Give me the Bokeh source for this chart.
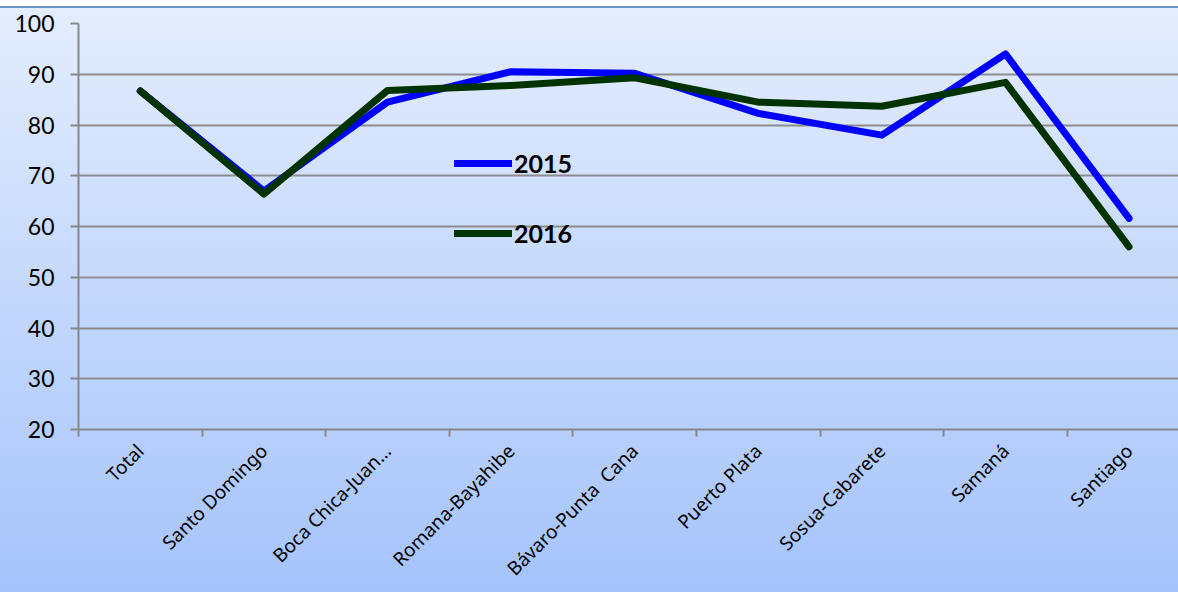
from bokeh.plotting import figure
from bokeh.models import Range1d, FixedTicker, Legend, LegendItem
from bokeh.embed import file_html
from bokeh.resources import INLINE

categories = ["Total", "Santo Domingo", "Boca Chica-Juan…", "Romana-Bayahibe",
              "Bávaro-Punta\u00a0 Cana", "Puerto Plata", "Sosua-Cabarete", "Samaná", "Santiago"]
values_2015 = [86.7, 67.0, 84.5, 90.5, 90.2, 82.3, 78.0, 94.0, 61.6]
values_2016 = [86.7, 66.4, 86.8, 87.8, 89.3, 84.5, 83.7, 88.4, 56.0]
y_ticks = [20, 30, 40, 50, 60, 70, 80, 90, 100]

xs = [i + 0.5 for i in range(len(categories))]

p = figure(width=1178, height=586, output_backend="svg", toolbar_location=None,
           x_range=Range1d(0, 8.9), y_range=Range1d(20, 100),
           min_border_left=78, min_border_right=0, min_border_top=15, min_border_bottom=165)
p.styles = {"background-image": "linear-gradient(to bottom, #e4edfd 0%, #c4d8fc 50%, #a5c3fb 100%)",
            "border-top": "2px solid #6a93c6", "margin-top": "6px"}
p.border_fill_color = None
p.background_fill_color = None
p.outline_line_color = None

r1 = p.line(xs, values_2015, line_color="#0000ff", line_width=7, line_join="round", line_cap="round")
r2 = p.line(xs, values_2016, line_color="#003300", line_width=7, line_join="round", line_cap="round")

# x axis: labels at centers, tick marks at boundaries
p.xaxis.ticker = FixedTicker(ticks=xs, minor_ticks=list(range(len(categories))))
p.xaxis.major_label_overrides = {x: c for x, c in zip(xs, categories)}
p.xaxis.major_label_orientation = 0.785398
p.xaxis.major_tick_line_color = None
p.xaxis.minor_tick_line_color = "#888888"
p.xaxis.minor_tick_line_width = 2
p.xaxis.minor_tick_out = 7
p.xaxis.minor_tick_in = 0
p.xaxis.axis_line_color = "#888888"
p.xaxis.axis_line_width = 2
p.xaxis.major_label_text_font = "Noto Sans"
p.xaxis.major_label_text_font_size = "19px"
p.xaxis.major_label_text_color = "#000000"
p.xaxis.major_label_standoff = 11
p.xgrid.grid_line_color = None

p.yaxis.ticker = FixedTicker(ticks=y_ticks)
p.yaxis.major_tick_line_color = "#888888"
p.yaxis.major_tick_line_width = 2
p.yaxis.major_tick_out = 8
p.yaxis.major_tick_in = 0
p.yaxis.minor_tick_line_color = None
p.yaxis.axis_line_color = "#888888"
p.yaxis.axis_line_width = 2
p.yaxis.major_label_text_font = "Lato"
p.yaxis.major_label_text_font_size = "23px"
p.yaxis.major_label_text_color = "#000000"
p.yaxis.major_label_standoff = 16
p.ygrid.grid_line_color = "#8c8c8c"
p.ygrid.grid_line_width = 2

legend = Legend(items=[LegendItem(label="2015", renderers=[r1]),
                       LegendItem(label="2016", renderers=[r2])],
                location=(376, 181), orientation="vertical",
                glyph_width=58, glyph_height=20, label_height=20, spacing=40,
                padding=0, margin=0, label_standoff=2,
                label_text_font="Lato", label_text_font_style="bold",
                label_text_font_size="25px", label_text_color="#000000",
                background_fill_alpha=0, border_line_alpha=0)
p.add_layout(legend, "center")

open("out.html", "w").write(file_html(p, INLINE))
